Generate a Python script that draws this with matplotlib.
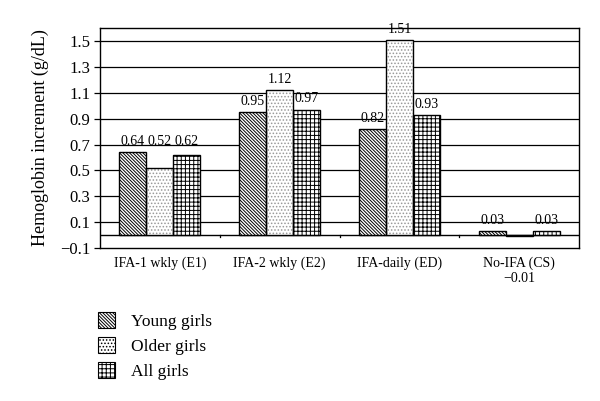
import matplotlib
matplotlib.use("Agg")
import matplotlib.pyplot as plt
import numpy as np
from matplotlib.patches import Patch

# data
GROUPS = ["IFA-1 wkly (E1)", "IFA-2 wkly (E2)", "IFA-daily (ED)", "No-IFA (CS)"]
SERIES = ["Young girls", "Older girls", "All girls"]
YOUNG = [0.64, 0.95, 0.82, 0.03]
OLDER = [0.52, 1.12, 1.51, -0.01]
ALL = [0.62, 0.97, 0.93, 0.03]
YTICKS = [-0.1, 0.1, 0.3, 0.5, 0.7, 0.9, 1.1, 1.3, 1.5]

HATCHES = ["\\" * 10, "." * 5, "+" * 4]
HATCH_COLORS = ["black", "0.6", "black"]

plt.rcParams["font.family"] = ["Liberation Serif", "DejaVu Serif"]
plt.rcParams["hatch.linewidth"] = 0.7

fig = plt.figure(figsize=(6.0, 4.01), dpi=100)
ax = fig.add_axes([0.1667, 0.3815, 0.7983, 0.5485])

x = np.arange(len(GROUPS))
width = 0.225
for i, vals in enumerate([YOUNG, OLDER, ALL]):
    xs = x + (i - 1) * width
    # hatch layer (edge colour sets hatch colour), then black outline
    ax.bar(xs, vals, width=width, color="white", edgecolor=HATCH_COLORS[i],
           hatch=HATCHES[i], linewidth=0, zorder=3)
    ax.bar(xs, vals, width=width, fill=False, edgecolor="black",
           linewidth=1.0, zorder=4)

# value labels
for g in range(len(GROUPS)):
    vals = [YOUNG[g], OLDER[g], ALL[g]]
    for i, v in enumerate(vals):
        xp = g + (i - 1) * width
        if v < 0:
            # negative label sits under the category name in the reference
            ax.text(g, -0.335, f"\u2212{abs(v):.2f}", ha="center", va="center",
                    fontsize=10, clip_on=False)
            continue
        yv = max(vals) if g == 0 else v
        ax.annotate(f"{v:.2f}", (xp, yv), xytext=(0, 3),
                    textcoords="offset points", ha="center", va="bottom",
                    fontsize=10, zorder=5)

ax.set_xlim(-0.5, len(GROUPS) - 0.5)
ax.set_ylim(-0.1, 1.6)
ax.set_yticks(YTICKS)
ax.set_yticklabels([f"{t:.1f}".replace("-", "\u2212") for t in YTICKS], fontsize=12)
for t in YTICKS[1:]:
    ax.axhline(t, color="black", lw=0.9, zorder=1)
ax.axhline(0, color="black", lw=1.0, zorder=2)
ax.tick_params(axis="y", length=4, width=0.9, direction="out", pad=3)

# category separator ticks on the zero line
for b in x[:-1] + 0.5:
    ax.plot([b, b], [0, -0.015], color="black", lw=0.9, zorder=2)

ax.set_xticks(x)
ax.set_xticklabels(GROUPS, fontsize=10)
ax.tick_params(axis="x", length=0, pad=6)

for s in ax.spines.values():
    s.set_linewidth(1.0)

ax.set_ylabel("Hemoglobin increment (g/dL)", fontsize=13, labelpad=8)

handles = [Patch(facecolor="white", edgecolor=c, hatch=h, linewidth=0.8)
           for h, c in zip(HATCHES, HATCH_COLORS)]
leg = fig.legend(handles, SERIES, loc="upper left", bbox_to_anchor=(0.163, 0.222),
                 frameon=False, fontsize=12.5, handlelength=1.0, handleheight=1.0,
                 handletextpad=0.9, labelspacing=0.42, borderaxespad=0,
                 borderpad=0)
for p in leg.get_patches():
    p.set_edgecolor("black")

fig.savefig("out.png", dpi=100)
